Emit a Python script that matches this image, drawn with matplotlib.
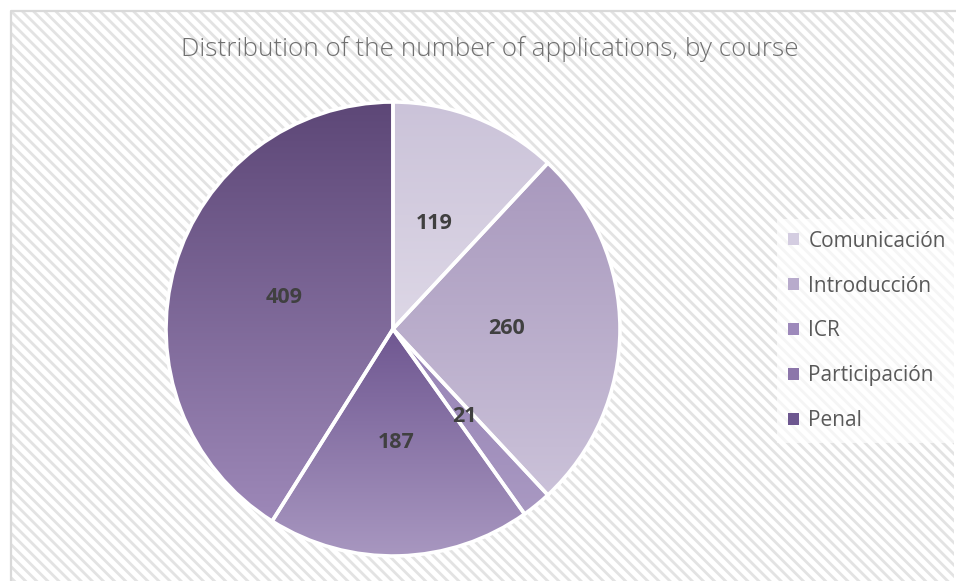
import numpy as np
import matplotlib.pyplot as plt
from matplotlib.patches import Rectangle, Patch
from matplotlib.colors import to_rgb

courses = ['Comunicación', 'Introducción', 'ICR', 'Participación', 'Penal']
applications = [119, 260, 21, 187, 409]
# gradient (top, bottom) of each slice, and the legend key colour
top_colors = ['#cbc3d9', '#a898bd', '#9682b5', '#6f5791', '#5d4777']
bottom_colors = ['#ddd7e6', '#cbc2d9', '#a999c2', '#a897c0', '#9d88b8']
key_colors = ['#d4cde1', '#b8abcc', '#9d89bb', '#8c76aa', '#6d5790']

W, H = 956, 581

plt.rcParams['hatch.linewidth'] = 2.0
fig = plt.figure(figsize=(W / 100, H / 100), dpi=100)
ax = fig.add_axes([0, 0, 1, 1])

# striped background + frame (top and left edges only visible)
ax.add_patch(Rectangle((11, -10), 943, 580, facecolor='white',
                       edgecolor='#e3e3e3', hatch='\\\\\\', lw=0, zorder=0))
ax.plot([11, 11, W], [-10, 570, 570], color='#d9d9d9', lw=1.6, zorder=1)

wedges, texts, autotexts = ax.pie(
    applications, center=(393, H - 329), radius=227, startangle=90,
    counterclock=False, autopct=lambda p: '%d' % round(p * sum(applications) / 100),
    pctdistance=0.5, frame=True,
    wedgeprops=dict(facecolor='none', edgecolor='white', linewidth=2.6),
    textprops=dict(fontsize=15.5, fontweight='bold', color='#404040',
                   family='Open Sans'))
ax.set_xlim(0, W)
ax.set_ylim(0, H)
ax.set_aspect('equal')
ax.axis('off')

for w, c0, c1 in zip(wedges, top_colors, bottom_colors):
    w.set_zorder(3)
    ext = w.get_path().get_extents()
    a, b = np.array(to_rgb(c0)), np.array(to_rgb(c1))
    t = np.linspace(0, 1, 200)[:, None]
    grad = (a * (1 - t) + b * t)[:, None, :]
    im = ax.imshow(grad, extent=[ext.x0, ext.x1, ext.y0, ext.y1],
                   origin='upper', aspect='auto', zorder=2, interpolation='bilinear')
    im.set_clip_path(w)
for t in autotexts:
    t.set_zorder(4)

ax.text(490, H - 49, 'Distribution of the number of applications, by course',
        ha='center', va='center', fontsize=18.8, color='#707070',
        family='Open Sans', fontweight='light')

handles = [Patch(facecolor=c, edgecolor='none') for c in key_colors]
leg = ax.legend(handles, courses, loc='center left',
                bbox_to_anchor=(777 / W, 1 - 331 / H), frameon=True,
                labelcolor='#595959', handlelength=0.5,
                handleheight=0.5, handletextpad=0.45, labelspacing=1.15,
                borderpad=0.55, borderaxespad=0, prop={'family': 'Open Sans', 'size': 15})
leg.get_frame().set_facecolor('white')
leg.get_frame().set_alpha(0.65)
leg.get_frame().set_edgecolor('none')
leg.get_frame().set_boxstyle('square', pad=0)
leg.set_zorder(5)

fig.savefig('out.png', dpi=100)
